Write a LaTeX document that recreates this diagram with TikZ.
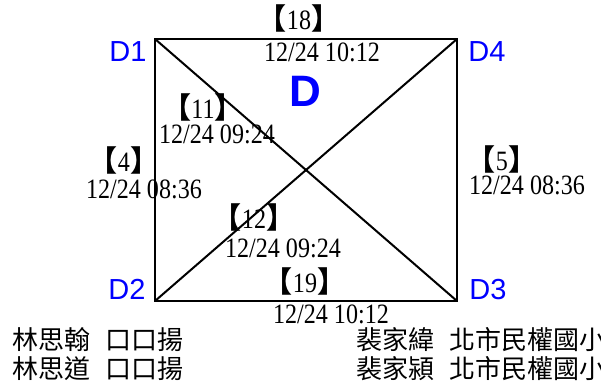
\documentclass[tikz,border=0pt]{standalone}
\usepackage{fontspec}
\setmainfont{Liberation Serif}[FakeStretch=0.86]
\newfontfamily\cjk{Noto Sans CJK TC}
\newfontfamily\dsans{Liberation Sans}
\newcommand{\brk}[1]{{\cjk\bfseries\fontsize{29}{29}\selectfont 【}#1{\cjk\bfseries\fontsize{29}{29}\selectfont 】}}
\begin{document}
\begin{tikzpicture}[x=1pt,y=-1pt,
  stamp/.style={inner sep=0pt,anchor=base,font=\fontsize{28}{28}\selectfont},
  corner/.style={inner sep=0pt,anchor=base,text=blue,font=\dsans\fontsize{29}{29}\selectfont},
  names/.style={inner sep=0pt,anchor=base west,font=\cjk\fontsize{26}{26}\selectfont},
  edge/.style={line width=2pt}]
\useasboundingbox (0,0) rectangle (601,385);
\coordinate (c1) at (155,39);
\coordinate (c4) at (457,39);
\coordinate (c2) at (155,301);
\coordinate (c3) at (457,301);
\draw[edge] (c1) -- (c4) -- (c3) -- (c2) -- cycle;
\draw[edge] (c1) -- (c3);
\draw[edge] (c2) -- (c4);
\node[corner] (d1) at (128,62) {D1};
\node[corner] (d4) at (487,62) {D4};
\node[corner] (d2) at (127,299) {D2};
\node[corner] (d3) at (488,299) {D3};
\node[inner sep=0pt,text=blue,font=\dsans\bfseries\fontsize{44}{44}\selectfont] (dd) at (305,91) {D};
\node[stamp] (l18) at (299,30) {\brk{18}};
\node[stamp] (t18) at (322,62) {12/24 10:12};
\node[stamp] (l11) at (203,118) {\brk{11}};
\node[stamp] (t11) at (217,143) {12/24 09:24};
\node[stamp] (l4) at (124,171) {\brk{4}};
\node[stamp] (t4) at (144,198) {12/24 08:36};
\node[stamp] (l5) at (502,170) {\brk{5}};
\node[stamp] (t5) at (527,194) {12/24 08:36};
\node[stamp] (l12) at (254,228) {\brk{12}};
\node[stamp] (t12) at (283,257) {12/24 09:24};
\node[stamp] (l19) at (305,292) {\brk{19}};
\node[stamp] (t19) at (331,323) {12/24 10:12};
\node[names] (n1) at (12,349) {林思翰\hspace{0.6em}口口揚};
\node[names] (n2) at (12,378) {林思道\hspace{0.6em}口口揚};
\node[names] (n3) at (356,349) {裴家緯\hspace{0.6em}北市民權國小};
\node[names] (n4) at (356,378) {裴家潁\hspace{0.6em}北市民權國小};
\end{tikzpicture}
\end{document}
